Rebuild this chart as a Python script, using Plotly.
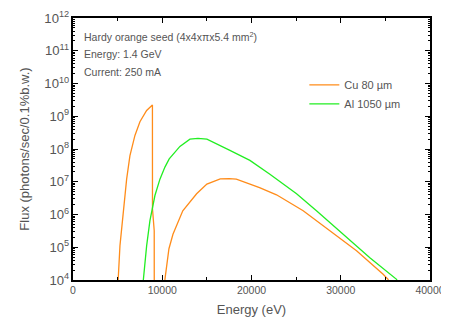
import plotly.graph_objects as go

# Cu 80 um filter (energy in eV, flux in photons/sec/0.1%b.w.)
cu_energy = [5020, 5060, 5260, 5640, 6010, 6380, 6940, 7500, 8250, 8900, 8905, 9100, 9105,
             10250, 10300, 10750, 11200, 12300, 13850, 15000, 16500, 17500, 18300, 20900,
             22800, 25790, 28780, 31770, 34750, 35300, 35600]
cu_flux = [3e3, 1.0e4, 1.1e5, 1.15e6, 1.2e7, 6.3e7, 2.6e8, 6.8e8, 1.5e9, 2.2e9, 1.5e6, 3.2e5, 3e3,
           3e3, 1.05e4, 9e4, 2.5e5, 1.3e6, 4.3e6, 8.5e6, 1.23e7, 1.25e7, 1.2e7, 6.6e6,
           4.0e6, 1.3e6, 3.2e5, 7.8e4, 1.5e4, 1.05e4, 5e3]

# Al 1050 um filter
al_energy = [7850, 7880, 8250, 8620, 9180, 9740, 10300, 10780, 11980, 13100, 14000, 15000,
             17580, 19820, 22060, 25050, 27280, 30270, 33260, 36250, 36600]
al_flux = [3e3, 1.0e4, 1.1e5, 6.5e5, 3.8e6, 1.2e7, 2.8e7, 5.0e7, 1.2e8, 2.0e8, 2.1e8, 2.0e8,
           9.1e7, 4.5e7, 1.7e7, 4.3e6, 1.3e6, 2.5e5, 4.8e4, 1.05e4, 6e3]

fig = go.Figure()
fig.add_trace(go.Scatter(x=cu_energy, y=cu_flux, mode="lines", name="Cu 80 µm",
                         line=dict(color="#ff8c1a", width=1.3)))
fig.add_trace(go.Scatter(x=al_energy, y=al_flux, mode="lines", name="Al 1050 µm",
                         line=dict(color="#22ee22", width=1.3)))

font = "Liberation Sans, Arial, sans-serif"
axis_common = dict(showline=True, linecolor="black", linewidth=1.5, mirror="ticks",
                   ticks="inside", tickcolor="black", showgrid=False, zeroline=False,
                   automargin=False,
                   tickfont=dict(family=font, size=10.5, color="#555555"))

# page body has an 8px default margin, so the figure is 8px smaller and shifted
fig.update_layout(
    width=441, height=319,
    margin=dict(l=65, r=19, t=10, b=47),
    paper_bgcolor="white", plot_bgcolor="white",
    font=dict(family=font, color="#555555"),
    showlegend=True,
    legend=dict(x=0.648, y=0.80, xanchor="left", yanchor="top", bgcolor="rgba(0,0,0,0)",
                font=dict(family=font, size=11, color="#555555"), tracegroupgap=0,
                itemwidth=30),
)
fig.update_xaxes(range=[0, 40000], tickvals=[0, 10000, 20000, 30000, 40000], tickformat="d",
                 ticklen=5, minor=dict(ticks="inside", dtick=5000, ticklen=3, tickcolor="black"),
                 title=dict(text="Energy (eV)", font=dict(family=font, size=13, color="#555555"),
                            standoff=10),
                 **axis_common)
fig.update_yaxes(type="log", range=[4, 12], dtick=1, exponentformat="power",
                 ticklen=5, minor=dict(ticks="inside", ticklen=2.5, tickcolor="black"),
                 title=dict(text="Flux (photons/sec/0.1%b.w.)",
                            font=dict(family=font, size=13, color="#555555"), standoff=12),
                 **axis_common)

notes = ["Hardy orange seed (4x4xπx5.4 mm<sup>2</sup>)", "Energy: 1.4 GeV", "Current: 250 mA"]
for i, t in enumerate(notes):
    fig.add_annotation(x=0.025, y=0.93 - i * 0.068, xref="paper", yref="paper",
                       text=t, showarrow=False, xanchor="left", yanchor="middle",
                       font=dict(family=font, size=10.5, color="#555555"))

fig.write_html("out.html")
